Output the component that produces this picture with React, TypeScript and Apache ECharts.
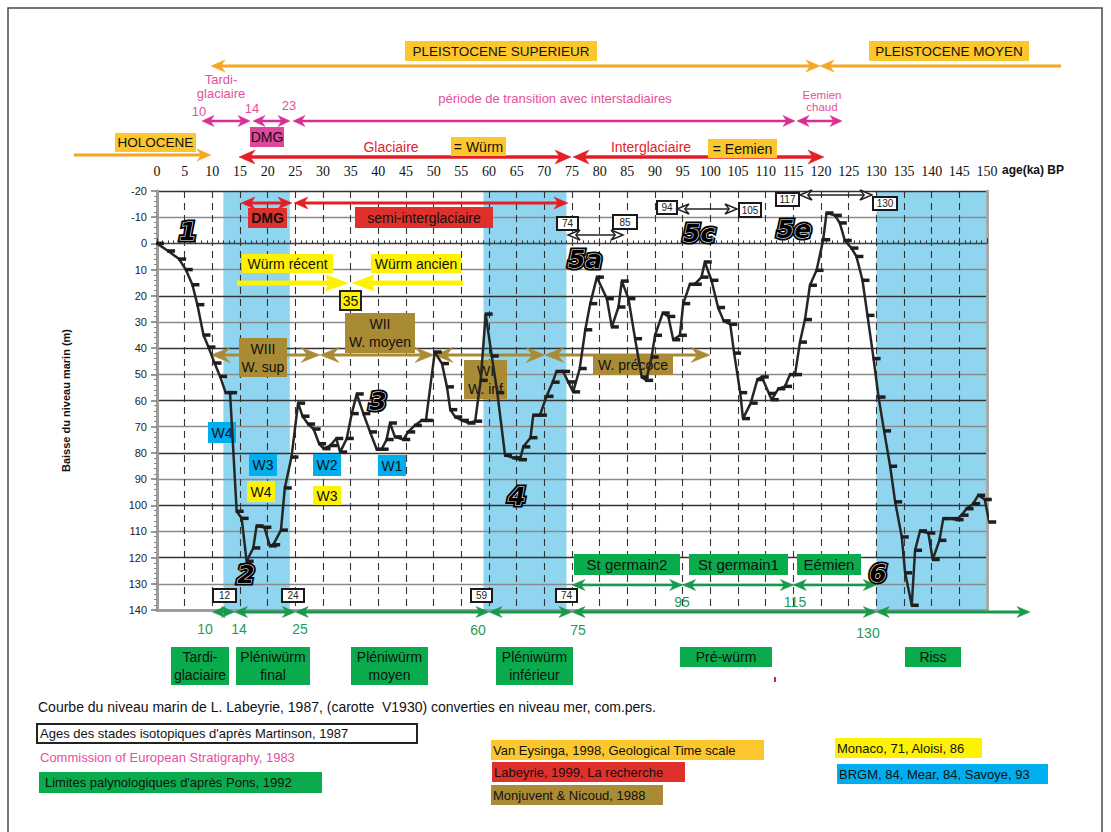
import React, { useEffect, useRef } from "react";
import * as echarts from "echarts";

// ---------------- data ----------------
const ageKa = [0, 2, 4, 5.2, 6.4, 7.3, 8.4, 9.3, 10.4, 11.4, 12.4, 13.2, 14.4, 15.3, 16.2, 17.4, 18, 19.4, 20.4, 21, 22.4, 23.1, 24.3, 25.5, 26.3, 27.3, 28.3, 29.3, 30.1, 31.3, 32.4, 33.1, 34.3, 35.2, 36.1, 37.3, 38.5, 39.7, 40.6, 41.5, 42.1, 43, 44.5, 45.4, 46.6, 47.8, 48.6, 50.2, 51.5, 52.4, 53, 53.9, 55.1, 56.3, 57.5, 58.5, 59.4, 60.5, 61.5, 62.9, 64.4, 65.6, 66.2, 67.5, 68, 69.2, 70.4, 71.5, 72.2, 73.4, 74.3, 75.2, 76.4, 77.4, 78.3, 79.5, 81.3, 82.2, 83.4, 84, 85.2, 86.4, 87.6, 88.4, 89.4, 90, 91.4, 92.4, 93.3, 94.5, 95.1, 96.3, 97.2, 98.4, 99, 100.2, 101.4, 102.4, 103.6, 104.3, 105.4, 105.9, 107.3, 108.5, 109.3, 110.6, 111.1, 112.3, 113.5, 114.4, 115.3, 116.2, 117.1, 118, 119.2, 120.4, 121, 122.5, 123.4, 124.3, 125.5, 126.4, 127.5, 128.4, 129.5, 130.4, 131.4, 132.5, 133.4, 134.6, 135.2, 136.4, 137, 137.9, 139.4, 140.2, 141.4, 142.1, 143.6, 144.5, 145.4, 146.3, 147.5, 148.4, 149.6, 150.4];
const seaLevelDrop = [0, 2.9, 6, 10, 15.8, 23.4, 35, 39.6, 45.7, 50.8, 57, 57, 102.3, 105, 121.4, 116.3, 107.9, 108.4, 115.5, 115.1, 109.5, 93.4, 81.6, 61, 66, 69, 70.9, 76.5, 78.4, 77.2, 74.5, 79.7, 74.5, 65, 57.5, 65, 72, 78.6, 78.6, 74.9, 68.6, 73.9, 74.9, 72, 69.5, 67.6, 67.6, 41.5, 45.9, 54.8, 63.5, 66.3, 67.6, 68.6, 67.9, 52.3, 27, 43, 57, 80.9, 81.9, 82.6, 77.7, 74.2, 65.6, 65.6, 58.4, 53, 48.9, 48.9, 52.9, 56.7, 47.8, 33, 23, 12.9, 21.1, 31.9, 24.3, 14.4, 21.1, 36.4, 51, 52.3, 43.4, 35.1, 26.6, 27.9, 36.8, 35.1, 23, 15.6, 15.6, 12.9, 7.1, 14.1, 24.5, 29.6, 30.9, 41.9, 57, 66.9, 61, 52, 51, 57.3, 59.7, 55.5, 54.6, 50.1, 50.1, 37.7, 29.1, 16, 10.3, -1.4, -11.6, -10.7, -7.8, -1.1, 1.8, 5, 14.1, 27.5, 44, 58.7, 71.6, 85.1, 98.7, 112.1, 125.8, 138.2, 117.2, 109.8, 110.6, 120.7, 113.4, 105.1, 105.1, 105.5, 103.8, 101.3, 99.4, 96.2, 97.8, 106.4];

// cold isotopic stages (shaded bands), ka
const coldBandStart = [12, 59, 130];
const coldBandEnd = [24, 74, 150];

// palynological limits (ka) on the bottom green arrows
const pollenLimitsLower = [10, 14, 25, 60, 75, 130];
const pollenLimitsUpper = [75, 95, 115, 130];

const yAxisName = "Baisse du niveau marin (m)";

// ---------------- styling helpers ----------------
const SANS = "'Liberation Sans', Arial, Helvetica, sans-serif";
const SERIF = "'Liberation Serif', 'Times New Roman', serif";
const NUMF = "'DejaVu Sans', 'Liberation Sans', sans-serif";

const GL = 157, GT = 191, GW = 830, GH = 419;
const X = (ka: number) => GL + (ka * GW) / 150;

const C = {
  orange: "#f5a623",
  goldBox: "#fcc72c",
  pink: "#e54f9c",
  pinkLine: "#d92f92",
  magenta: "#e0469b",
  red: "#e31e24",
  redBox: "#e0302b",
  yellow: "#fff200",
  brown: "#a98b35",
  blue: "#00aeef",
  band: "#8fd5ef",
  green: "#0aab4c",
  greenLine: "#17994a",
  greenText: "#1c9b57",
};

function txt(x: number, y: number, text: string, o: any = {}): any {
  const size = o.size ?? 13;
  return {
    type: "text",
    x,
    y,
    z: o.z ?? 30,
    silent: true,
    style: {
      text,
      fill: o.color ?? "#111",
      fontSize: size,
      fontFamily: o.family ?? SANS,
      fontWeight: o.weight ?? "normal",
      fontStyle: o.fstyle ?? "normal",
      align: o.align ?? "center",
      textAlign: o.align ?? "center",
      verticalAlign: "middle",
      textVerticalAlign: "middle",
      lineHeight: o.lh ?? Math.round(size * 1.2),
      stroke: o.tstroke,
      lineWidth: o.tlw ?? 0,
    },
  };
}

function box(x: number, y: number, w: number, h: number, fill: string, text: string, o: any = {}): any[] {
  const z = o.z ?? 30;
  const els: any[] = [
    {
      type: "rect",
      z,
      silent: true,
      shape: { x, y, width: w, height: h },
      style: { fill, stroke: o.stroke ?? null, lineWidth: o.lw ?? 0 },
    },
  ];
  const tx = o.align === "left" ? x + (o.pad ?? 4) : x + w / 2;
  els.push(
    txt(tx, y + h / 2 + (o.dy ?? 0), text, {
      size: o.size ?? 14,
      color: o.color ?? "#111",
      weight: o.weight,
      align: o.align ?? "center",
      lh: o.lh,
      z: z + 1,
    })
  );
  return els;
}

function head(tip: number, y: number, dir: number, L: number, H: number, fill: string, notch: number, z: number, stroke?: string): any {
  const bx = tip - dir * L;
  const nx = tip - dir * L * (1 - notch);
  return {
    type: "polygon",
    z,
    silent: true,
    shape: { points: [[tip, y], [bx, y - H / 2], [nx, y], [bx, y + H / 2]] },
    style: { fill, stroke: stroke ?? fill, lineWidth: stroke ? 1.4 : 0.5 },
  };
}

function arrow(x1: number, x2: number, y: number, color: string, w: number, L: number, H: number, heads: string, notch = 0.3, z = 20, hollow = false): any[] {
  const left = heads === "both" || heads === "left";
  const right = heads === "both" || heads === "right";
  const inset = L * (1 - notch) * 0.8;
  const els: any[] = [
    {
      type: "line",
      z,
      silent: true,
      shape: { x1: left ? x1 + inset : x1, y1: y, x2: right ? x2 - inset : x2, y2: y },
      style: { stroke: hollow ? "#222" : color, lineWidth: w },
    },
  ];
  if (left) els.push(head(x1, y, -1, L, H, hollow ? "#fff" : color, notch, z + 1, hollow ? "#222" : undefined));
  if (right) els.push(head(x2, y, 1, L, H, hollow ? "#fff" : color, notch, z + 1, hollow ? "#222" : undefined));
  return els;
}

function stageNum(x: number, y: number, t: string): any[] {
  const base = { size: 25, family: NUMF, weight: "bold", fstyle: "italic" };
  return [
    txt(x, y, t, { ...base, color: "#000", tstroke: "#000", tlw: 5, z: 70 }),
    txt(x, y, t, { ...base, color: "#000", tstroke: "#fff", tlw: 1.2, z: 71 }),
  ];
}

function isoBox(x: number, y: number, w: number, h: number, t: string): any[] {
  return box(x, y, w, h, "#fff", t, { stroke: "#1a1a1a", lw: 2, size: 10, color: "#222", z: 70 });
}

function buildGraphics(): any[] {
  const g: any[] = [];
  // frame
  g.push({ type: "rect", z: 0, silent: true, shape: { x: 8, y: 8, width: 1094, height: 900 }, style: { fill: "none", stroke: "#4a4a4a", lineWidth: 1.5 } });

  // ---- chronology above the plot ----
  g.push(...box(405, 41, 192, 20, C.goldBox, "PLEISTOCENE SUPERIEUR", { size: 13.5 }));
  g.push(...box(869, 41, 160, 20, C.goldBox, "PLEISTOCENE MOYEN", { size: 13.5 }));
  g.push(...arrow(211, 820, 66, C.orange, 3, 14, 12, "both"));
  g.push(...arrow(820, 1061, 66, C.orange, 3, 14, 12, "left"));

  g.push(txt(221, 86, "Tardi-\nglaciaire", { color: C.pink, size: 13, lh: 14 }));
  g.push(txt(199, 111, "10", { color: C.pink, size: 13 }));
  g.push(txt(252, 108, "14", { color: C.pink, size: 13 }));
  g.push(txt(289, 105, "23", { color: C.pink, size: 13 }));
  g.push(txt(555, 98, "période de transition avec interstadiaires", { color: C.pink, size: 13 }));
  g.push(txt(822, 101, "Eemien\nchaud", { color: C.pink, size: 11.5, lh: 12 }));
  g.push(...arrow(202, 250, 121, C.pinkLine, 2.5, 12, 11, "both"));
  g.push(...arrow(253, 290, 121, C.pinkLine, 2.5, 12, 11, "both"));
  g.push(...arrow(293, 795, 121, C.pinkLine, 2.5, 12, 11, "both"));
  g.push(...arrow(797, 842, 121, C.pinkLine, 2.5, 12, 11, "both"));
  g.push(...box(250, 127, 34, 20, C.magenta, "DMG", { size: 14 }));

  g.push(...box(115, 133, 81, 19, C.goldBox, "HOLOCENE", { size: 13.5 }));
  g.push(...arrow(74, 211, 155, C.orange, 3, 14, 12, "right"));
  g.push(...arrow(239, 571, 157, C.red, 3.5, 16, 14, "both"));
  g.push(...arrow(573, 824, 157, C.red, 3.5, 16, 14, "both"));
  g.push(txt(391, 147, "Glaciaire", { color: C.red, size: 14 }));
  g.push(...box(451, 137, 55, 19, C.goldBox, "= Würm", { size: 14 }));
  g.push(txt(651, 147, "Interglaciaire", { color: C.red, size: 14 }));
  g.push(...box(708, 139, 69, 19, C.goldBox, "= Eemien", { size: 14 }));
  g.push(txt(1033, 170, "age(ka) BP", { size: 12, weight: "bold" }));

  // ---- annotations inside the plot ----
  g.push(...arrow(241, 292, 203, C.red, 3, 14, 12, "both"));
  g.push(...arrow(294, 568, 203, C.red, 3, 14, 12, "both"));
  g.push(...box(248, 208, 39, 20, C.redBox, "DMG", { size: 14, weight: "bold" }));
  g.push(...box(355, 207, 138, 21, C.redBox, "semi-interglaciaire", { size: 14 }));

  g.push(...box(242, 254, 91, 19, C.yellow, "Würm récent", { size: 14 }));
  g.push(...box(371, 254, 90, 19, C.yellow, "Würm ancien", { size: 14 }));
  g.push(...arrow(237, 348, 283, C.yellow, 5, 22, 16, "right", 0.1));
  g.push(...arrow(352, 463, 283, C.yellow, 5, 22, 16, "left", 0.1));
  g.push(...box(340, 291, 21, 19, C.yellow, "35", { size: 14, stroke: "#222", lw: 2 }));

  g.push(...arrow(211, 320, 355, C.brown, 3, 19, 15, "both", 0.35, 20));
  g.push(...arrow(320, 434, 355, C.brown, 3, 19, 15, "both", 0.35, 20));
  g.push(...arrow(434, 545, 355, C.brown, 3, 19, 15, "both", 0.35, 20));
  g.push(...arrow(545, 710, 355, C.brown, 3, 19, 15, "both", 0.35, 20));
  g.push(...box(345, 313, 70, 40, C.brown, "WII\nW. moyen", { size: 14, lh: 18 }));
  g.push(...box(239, 338, 48, 39, C.brown, "WIII\nW. sup", { size: 14, lh: 18 }));
  g.push(...box(464, 360, 43, 39, C.brown, "WI\nW. inf", { size: 14, lh: 18 }));
  g.push(...box(593, 355, 80, 20, C.brown, "W. précoce", { size: 14 }));

  g.push(...box(208, 422, 28, 21, C.blue, "W4", { size: 14 }));
  g.push(...box(249, 454, 28, 22, C.blue, "W3", { size: 14 }));
  g.push(...box(313, 454, 28, 22, C.blue, "W2", { size: 14 }));
  g.push(...box(378, 455, 28, 21, C.blue, "W1", { size: 14 }));
  g.push(...box(247, 481, 28, 21, C.yellow, "W4", { size: 14 }));
  g.push(...box(313, 486, 28, 19, C.yellow, "W3", { size: 14 }));

  // isotopic stages
  g.push(...stageNum(188, 231, "1"));
  g.push(...stageNum(246, 574, "2"));
  g.push(...stageNum(378, 401, "3"));
  g.push(...stageNum(517, 496, "4"));
  g.push(...stageNum(585, 259, "5a"));
  g.push(...stageNum(699, 233, "5c"));
  g.push(...stageNum(794, 229, "5e"));
  g.push(...stageNum(878, 573, "6"));

  g.push(...isoBox(557, 217, 21, 13, "74"));
  g.push(...isoBox(613, 215, 24, 14, "85"));
  g.push(...isoBox(657, 201, 20, 13, "94"));
  g.push(...isoBox(739, 203, 22, 14, "105"));
  g.push(...isoBox(776, 193, 23, 13, "117"));
  g.push(...isoBox(873, 197, 24, 13, "130"));
  g.push(...isoBox(213, 589, 23, 13, "12"));
  g.push(...isoBox(282, 589, 22, 13, "24"));
  g.push(...isoBox(471, 589, 21, 13, "59"));
  g.push(...isoBox(556, 589, 21, 13, "74"));
  g.push(...arrow(568, 623, 235, "#222", 1.3, 12, 10, "both", 0.35, 70, true));
  g.push(...arrow(677, 737, 209, "#222", 1.3, 12, 10, "both", 0.35, 70, true));
  g.push(...arrow(800, 872, 195, "#222", 1.3, 12, 10, "both", 0.35, 70, true));

  // ---- palynological limits ----
  g.push(...box(574, 554, 106, 21, C.green, "St germain2", { size: 15 }));
  g.push(...box(689, 554, 99, 21, C.green, "St germain1", { size: 15 }));
  g.push(...box(797, 554, 64, 21, C.green, "Eémien", { size: 15 }));
  for (let i = 0; i < pollenLimitsUpper.length - 1; i++) {
    g.push(...arrow(X(pollenLimitsUpper[i]), X(pollenLimitsUpper[i + 1]), 585, C.greenLine, 2.5, 13, 11, "both", 0.3, 40));
  }
  for (let i = 0; i < pollenLimitsLower.length - 1; i++) {
    g.push(...arrow(X(pollenLimitsLower[i]), X(pollenLimitsLower[i + 1]), 612, C.greenLine, 3, 13, 11, "both", 0.3, 40));
  }
  g.push(...arrow(X(pollenLimitsLower[pollenLimitsLower.length - 1]), 1030, 612, C.greenLine, 3, 13, 11, "both", 0.3, 40));
  const gl = (x: number, y: number, t: string) => g.push(txt(x, y, t, { color: C.greenText, size: 14, z: 45 }));
  gl(205, 629, "10");
  gl(239, 629, "14");
  gl(300, 629, "25");
  gl(478, 630, "60");
  gl(578, 630, "75");
  gl(868, 633, "130");
  gl(682, 602, "95");
  gl(795, 602, "115");

  g.push(...box(171, 647, 58, 38, C.green, "Tardi-\nglaciaire", { size: 14, lh: 18 }));
  g.push(...box(236, 647, 74, 38, C.green, "Pléniwürm\nfinal", { size: 14, lh: 18 }));
  g.push(...box(351, 647, 77, 38, C.green, "Pléniwürm\nmoyen", { size: 14, lh: 18 }));
  g.push(...box(496, 647, 77, 38, C.green, "Pléniwürm\ninférieur", { size: 14, lh: 18 }));
  g.push(...box(680, 647, 92, 20, C.green, "Pré-würm", { size: 14 }));
  g.push(...box(905, 647, 56, 20, C.green, "Riss", { size: 14 }));
  g.push({ type: "rect", z: 30, silent: true, shape: { x: 774, y: 677, width: 2, height: 5 }, style: { fill: C.red } });

  // ---- sources ----
  g.push(txt(38, 707, "Courbe du niveau marin de L. Labeyrie, 1987, (carotte  V1930) converties en niveau mer, com.pers.", { size: 14, align: "left" }));
  g.push(...box(37, 724, 380, 19, "#fff", "Ages des stades isotopiques d'après Martinson, 1987", { size: 13, align: "left", pad: 3, stroke: "#222", lw: 2 }));
  g.push(txt(40, 757, "Commission of European Stratigraphy, 1983", { size: 13, align: "left", color: C.pink }));
  g.push(...box(39, 772, 283, 21, C.green, "Limites palynologiques d'après Pons, 1992", { size: 13, align: "left", pad: 6 }));
  g.push(...box(491, 740, 273, 20, C.goldBox, "Van Eysinga, 1998, Geological Time scale", { size: 13, align: "left", pad: 2 }));
  g.push(...box(492, 762, 193, 20, C.redBox, "Labeyrie, 1999, La recherche", { size: 13, align: "left", pad: 2 }));
  g.push(...box(491, 785, 172, 20, C.brown, "Monjuvent & Nicoud, 1988", { size: 13, align: "left", pad: 2 }));
  g.push(...box(835, 738, 147, 20, C.yellow, "Monaco, 71, Aloisi, 86", { size: 13, align: "left", pad: 2 }));
  g.push(...box(837, 764, 211, 20, C.blue, "BRGM, 84, Mear, 84, Savoye, 93", { size: 13, align: "left", pad: 2 }));
  return g;
}

function buildOption(): any {
  return {
    animation: false,
    backgroundColor: "#fff",
    grid: { left: GL, top: GT, width: GW, height: GH, containLabel: false },
    xAxis: [
      {
        type: "value",
        position: "top",
        min: 0,
        max: 150,
        interval: 5,
        z: 10,
        axisLine: { show: true, lineStyle: { color: "#444", width: 1 } },
        axisTick: { show: true, length: 5, lineStyle: { color: "#333" } },
        minorTick: { show: true, splitNumber: 5, length: 3, lineStyle: { color: "#333" } },
        axisLabel: { fontFamily: SERIF, fontSize: 14, color: "#111", margin: 13, hideOverlap: false },
        splitLine: { show: true, lineStyle: { color: "#333", type: [7, 5], width: 1.1 } },
      },
      {
        type: "value",
        position: "bottom",
        min: 0,
        max: 150,
        z: 10,
        axisLine: { show: true, onZero: false, lineStyle: { color: "#9c9c9c", width: 3 } },
        axisTick: { show: false },
        axisLabel: { show: false },
        splitLine: { show: false },
      },
    ],
    yAxis: [
      {
        type: "value",
        inverse: true,
        min: -20,
        max: 140,
        interval: 10,
        z: 10,
        name: yAxisName,
        nameLocation: "middle",
        nameGap: 86,
        nameTextStyle: { fontFamily: SANS, fontSize: 11, fontWeight: "bold", color: "#111" },
        axisLine: { show: true, onZero: false, lineStyle: { color: "#9c9c9c", width: 3 } },
        axisTick: { show: true, length: 6, lineStyle: { color: "#777", width: 1.5 } },
        minorTick: { show: true, splitNumber: 5, length: 3, lineStyle: { color: "#888" } },
        axisLabel: { fontFamily: SANS, fontSize: 11, color: "#222", margin: 10 },
        splitLine: { show: true, lineStyle: { color: ["#333", "#8a8a8a"], width: 1.3 } },
      },
      {
        type: "value",
        inverse: true,
        position: "right",
        min: -20,
        max: 140,
        z: 10,
        axisLine: { show: true, onZero: false, lineStyle: { color: "#a8a8a8", width: 3 } },
        axisTick: { show: false },
        axisLabel: { show: false },
        splitLine: { show: false },
      },
    ],
    series: [
      {
        type: "line",
        name: "bands",
        data: [],
        z: 2,
        silent: true,
        markArea: {
          silent: true,
          itemStyle: { color: C.band },
          data: coldBandStart.map((s, i) => [{ xAxis: s }, { xAxis: coldBandEnd[i] }]),
        },
      },
      {
        type: "line",
        name: "niveau marin",
        data: ageKa.map((a, i) => [a, seaLevelDrop[i]]),
        z: 50,
        clip: false,
        silent: true,
        showSymbol: true,
        symbol: "rect",
        symbolSize: [8, 3.5],
        symbolOffset: [3, 0],
        itemStyle: { color: "#1e1e1e" },
        lineStyle: { color: "#262626", width: 2.5 },
      },
    ],
    graphic: { elements: buildGraphics() },
  };
}

export default function App() {
  const ref = useRef<HTMLDivElement>(null);
  useEffect(() => {
    if (!ref.current) return;
    const chart = echarts.init(ref.current, null, { renderer: "svg" });
    chart.setOption(buildOption());
    return () => chart.dispose();
  }, []);
  return (
    <div
      ref={ref}
      style={{ position: "absolute", left: 0, top: 0, width: 1111, height: 832, background: "#fff" }}
    />
  );
}
